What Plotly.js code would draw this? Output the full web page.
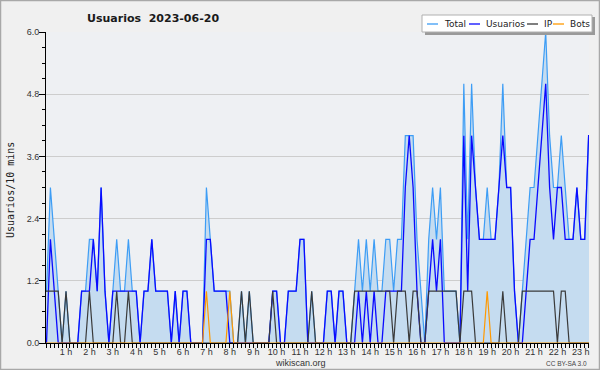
<!DOCTYPE html>
<html><head><meta charset="utf-8">
<script src="https://cdn.plot.ly/plotly-3.0.1.min.js"></script>
<style>html,body{margin:0;padding:0;background:#f0f0f0}#chart{width:600px;height:370px}</style>
</head><body><div id="chart"></div>
<script>
// 10-minute slots of 2023-06-20 (slot k = 00:00 + 10*k min)
const slots = Array.from({length: 142}, (_, k) => k);
const total = [1,1,3,2,1,0,1,0,0,0, 1,1,2,2,1,3,1,0,1,2, 1,1,2,1,1,0,1,1,2,1, 1,1,1,0,1,0,1,1,0,0,
               0,0,3,2,1,1,1,1,1,0, 0,1,0,1,0,0,0,0,0,1, 1,0,0,1,1,1,2,2,0,1, 0,0,0,1,1,0,1,1,0,0,
               1,2,1,2,1,2,1,1,2,2, 1,2,2,4,4,4,2,1,0,2, 3,2,3,1,1,1,1,0,5,2, 5,3,2,2,3,2,2,3,5,3,
               3,1,0,1,2,3,3,4,5,6, 4,3,3,4,3,2,2,3,2,2, 4,4];
const usuarios = [0,0,2,1,0,0,0,0,0,0, 1,1,1,2,1,3,1,0,1,1, 1,1,1,1,1,0,1,1,2,1, 1,1,1,0,1,0,1,1,0,0,
               0,0,2,2,1,1,1,1,0,0, 0,0,0,0,0,0,0,0,0,1, 1,0,0,1,1,1,2,2,0,0, 0,0,0,1,1,0,1,1,0,0,
               0,1,0,1,0,1,0,0,1,1, 1,1,1,3,4,3,1,0,0,1, 2,1,2,0,0,0,0,0,4,1, 4,3,2,2,2,2,2,3,4,3,
               3,1,0,0,1,2,2,3,4,5, 3,2,3,3,2,2,2,3,2,2, 4,4];
const ip = [1,1,1,1,1,0,1,0,0,0, 0,0,1,0,0,0,0,0,0,1, 0,0,1,0,0,0,0,0,0,0, 0,0,0,0,0,0,0,0,0,0,
            0,0,0,0,0,0,0,0,0,0, 0,1,0,1,0,0,0,0,0,1, 0,0,0,0,0,0,0,0,0,1, 0,0,0,0,0,0,0,0,0,0,
            1,1,1,1,1,1,1,1,1,1, 0,1,1,1,0,1,1,0,0,1, 1,1,1,1,1,1,1,0,1,1, 1,0,0,0,0,0,0,0,1,0,
            0,0,0,1,1,1,1,1,1,1, 1,1,0,1,1,0,0,0,0,0, 0,0];
const bots = slots.map(() => 0);
[[42,1],[48,1],[114,1]].forEach(([k,v]) => { bots[k] = v; });
const hours = [1,2,3,4,5,6,7,8,9,10,11,12,13,14,15,16,17,18,19,20,21,22,23];
const hourLabels = hours.map(h => h + ' h');

// geometry helpers (pixel -> paper)
const PL = 46, PR = 589, PT = 32, PB = 343;
const px = x => (x - PL) / (PR - PL);
const py = y => (PB - y) / (PB - PT);

const traces = [
  {x: slots, y: total, mode: 'lines', name: 'Total', fill: 'tozeroy',
   fillcolor: '#c5dcf0', line: {color: '#3d9df5', width: 1.2}},
  {x: slots, y: usuarios, mode: 'lines', name: 'Usuarios', line: {color: '#0a0aff', width: 1.3}},
  {x: slots, y: ip, mode: 'lines', name: 'IP', line: {color: '#3a3a3a', width: 1.2}},
  {x: slots, y: bots, mode: 'lines', name: 'Bots', line: {color: '#ff9900', width: 1.2}}
];

const legendItems = [
  {name: 'Total', color: '#3d9df5', l0: 427, l1: 438, tx: 442},
  {name: 'Usuarios', color: '#0a0aff', l0: 469, l1: 480, tx: 484},
  {name: 'IP', color: '#3a3a3a', l0: 527, l1: 538, tx: 542},
  {name: 'Bots', color: '#ff9900', l0: 553, l1: 564, tx: 568}
];

const shapes = [
  {type: 'rect', xref: 'paper', yref: 'paper', x0: px(0.5), x1: px(599.5), y0: py(369.5), y1: py(0.5),
   line: {color: '#a8a8a8', width: 1.5}, fillcolor: 'rgba(0,0,0,0)', layer: 'below'},
  {type: 'rect', xref: 'paper', yref: 'paper', x0: px(425), x1: px(595), y0: py(35), y1: py(17),
   line: {width: 0}, fillcolor: '#9a9a9a', layer: 'above'},
  {type: 'rect', xref: 'paper', yref: 'paper', x0: px(422), x1: px(592), y0: py(32), y1: py(15),
   line: {color: '#b0b0b0', width: 1}, fillcolor: '#ffffff', layer: 'above'}
];
const annotations = [
  {text: 'Usuarios  2023-06-20', xref: 'paper', yref: 'paper', x: px(85), y: py(18),
   xanchor: 'left', yanchor: 'middle', showarrow: false,
   font: {family: 'DejaVu Sans', size: 11, weight: 'bold', color: '#1a1a1a'}},
  {text: 'Usuarios/10 mins', xref: 'paper', yref: 'paper', x: px(10), y: py(190), textangle: -90,
   xanchor: 'center', yanchor: 'middle', showarrow: false,
   font: {family: 'DejaVu Sans Mono', size: 10, color: '#222'}},
  {text: 'wikiscan.org', xref: 'paper', yref: 'paper', x: px(300), y: py(362.5),
   xanchor: 'center', yanchor: 'middle', showarrow: false,
   font: {family: 'Liberation Sans', size: 9, color: '#333'}},
  {text: 'CC BY-SA 3.0', xref: 'paper', yref: 'paper', x: px(589), y: py(363.5),
   xanchor: 'right', yanchor: 'middle', showarrow: false,
   font: {family: 'Liberation Sans', size: 6.5, color: '#444'}}
];
legendItems.forEach(it => {
  shapes.push({type: 'line', xref: 'paper', yref: 'paper', x0: px(it.l0), x1: px(it.l1), y0: py(24), y1: py(24),
    line: {color: it.color, width: 1.3}, layer: 'above'});
  annotations.push({text: it.name, xref: 'paper', yref: 'paper', x: px(it.tx), y: py(24),
    xanchor: 'left', yanchor: 'middle', showarrow: false,
    font: {family: 'DejaVu Sans', size: 9, color: '#222'}});
});

const layout = {
  width: 600, height: 370,
  margin: {l: PL, r: 600 - PR, t: PT, b: 370 - PB, pad: 0},
  paper_bgcolor: '#f0f0f0', plot_bgcolor: '#eef0f3',
  showlegend: false,
  xaxis: {range: [0.87, 140.1], showgrid: false, zeroline: false,
          showline: true, linecolor: '#000', linewidth: 1,
          tickmode: 'array', tickvals: hours.map(h => 6 * h), ticktext: hourLabels,
          ticks: 'outside', ticklen: 4, tickcolor: '#000', tickwidth: 1, ticklabelstandoff: -4,
          tickfont: {family: 'Liberation Sans', size: 9, color: '#333'},
          minor: {tickmode: 'linear', tick0: 0, dtick: 1, ticks: 'outside', ticklen: 4, tickcolor: '#000', showgrid: false}},
  yaxis: {range: [0, 6], tickmode: 'linear', tick0: 0, dtick: 1.2, tickformat: '.1f',
          showgrid: true, gridcolor: '#cdcdcd', gridwidth: 1, zeroline: false,
          showline: true, linecolor: '#000', linewidth: 1,
          ticks: 'outside', ticklen: 6, tickcolor: '#000', ticklabelstandoff: -2,
          tickfont: {family: 'Liberation Sans', size: 9, color: '#333'},
          minor: {tickmode: 'linear', tick0: 0, dtick: 0.3, ticks: 'outside', ticklen: 3, tickcolor: '#000', showgrid: false}},
  shapes: shapes,
  annotations: annotations
};

Plotly.newPlot('chart', traces, layout, {displayModeBar: false, staticPlot: true});
</script></body></html>
